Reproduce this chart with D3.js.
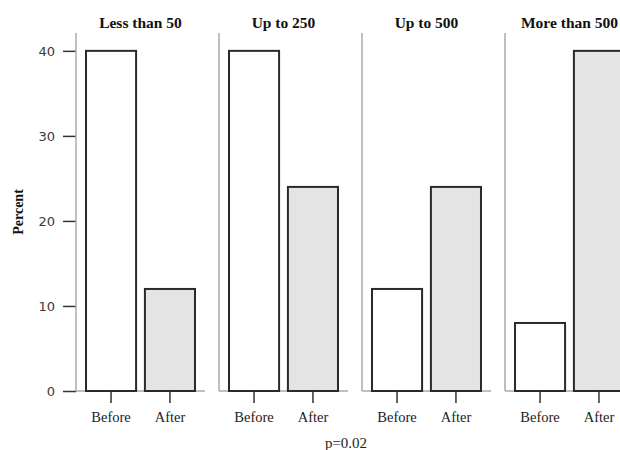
<!DOCTYPE html>
<html>
<head>
<meta charset="utf-8">
<script src="https://cdn.jsdelivr.net/npm/d3@7"></script>
<style>
  body { margin: 0; background: #fff; }
  svg { display: block; }
</style>
</head>
<body>
<div id="chart"></div>
<script>
(function () {
  const WIDTH = 620, HEIGHT = 450;

  const panels  = ["Less than 50", "Up to 250", "Up to 500", "More than 500"];
  const periods = ["Before", "After"];
  const before  = [40, 40, 12, 8];
  const after   = [12, 24, 24, 40];
  const yTicks  = [0, 10, 20, 30, 40];
  const note    = "p=0.02";

  const PANEL_LEFT = 76, PANEL_W = 129, PANEL_GAP = 14;
  const Y_TOP = 33, Y_BOTTOM = 391;
  const FILL = { Before: "#ffffff", After: "#e4e4e4" };
  const SERIF = "Liberation Serif, Times New Roman, serif";

  const svg = d3.select("#chart").append("svg")
    .attr("width", WIDTH)
    .attr("height", HEIGHT);

  const y = d3.scaleLinear()
    .domain([0, 42.1])
    .range([Y_BOTTOM, Y_TOP]);

  const panelX = d3.scaleBand()
    .domain(panels)
    .range([PANEL_LEFT, PANEL_LEFT + panels.length * PANEL_W + (panels.length - 1) * PANEL_GAP])
    .paddingInner(PANEL_GAP / (PANEL_W + PANEL_GAP))
    .paddingOuter(0);

  const x = d3.scaleBand()
    .domain(periods)
    .range([0, PANEL_W])
    .paddingInner(0.15)
    .paddingOuter(0.17);

  // y axis, only on the first panel
  const yAxis = svg.append("g")
    .attr("transform", `translate(${PANEL_LEFT},0)`)
    .call(d3.axisLeft(y).tickValues(yTicks).tickSize(13).tickPadding(8).tickSizeOuter(0));
  yAxis.select(".domain").remove();
  yAxis.selectAll(".tick line").attr("stroke", "#333").attr("stroke-width", 1.5);
  yAxis.selectAll(".tick text")
    .attr("font-family", "DejaVu Sans, Verdana, sans-serif")
    .attr("font-size", "13px")
    .attr("fill", "#3a3a3a");

  svg.append("text")
    .attr("transform", `translate(23,${212}) rotate(-90)`)
    .attr("text-anchor", "middle")
    .attr("font-family", SERIF)
    .attr("font-weight", "bold")
    .attr("font-size", "14px")
    .attr("fill", "#111")
    .text("Percent");

  panels.forEach((name, i) => {
    const g = svg.append("g")
      .attr("transform", `translate(${panelX(name)},0)`);

    const rows = [
      { period: "Before", value: before[i] },
      { period: "After",  value: after[i] }
    ];

    // panel frame: left rule and baseline
    g.append("line")
      .attr("x1", 0).attr("x2", 0)
      .attr("y1", Y_TOP).attr("y2", y(0))
      .attr("stroke", "#aaa").attr("stroke-width", 1.5);
    g.append("line")
      .attr("x1", 0).attr("x2", PANEL_W)
      .attr("y1", y(0)).attr("y2", y(0))
      .attr("stroke", "#aaa").attr("stroke-width", 1.5);

    g.selectAll("rect")
      .data(rows)
      .join("rect")
      .attr("x", d => x(d.period))
      .attr("y", d => y(d.value))
      .attr("width", x.bandwidth())
      .attr("height", d => y(0) - y(d.value))
      .attr("fill", d => FILL[d.period])
      .attr("stroke", "#2a2a2a")
      .attr("stroke-width", 2);

    const xAxis = g.append("g")
      .attr("transform", `translate(0,${y(0)})`)
      .call(d3.axisBottom(x).tickSize(12).tickPadding(9).tickSizeOuter(0));
    xAxis.select(".domain").remove();
    xAxis.selectAll(".tick line").attr("stroke", "#333").attr("stroke-width", 1.5);
    xAxis.selectAll(".tick text")
      .attr("font-family", SERIF)
      .attr("font-size", "14.5px")
      .attr("fill", "#222");

    g.append("text")
      .attr("x", PANEL_W / 2)
      .attr("y", 28)
      .attr("text-anchor", "middle")
      .attr("font-family", SERIF)
      .attr("font-weight", "bold")
      .attr("font-size", "15.5px")
      .attr("fill", "#111")
      .text(name);
  });

  svg.append("text")
    .attr("x", 346)
    .attr("y", 448)
    .attr("text-anchor", "middle")
    .attr("font-family", SERIF)
    .attr("font-size", "15px")
    .attr("fill", "#222")
    .text(note);
})();
</script>
</body>
</html>
